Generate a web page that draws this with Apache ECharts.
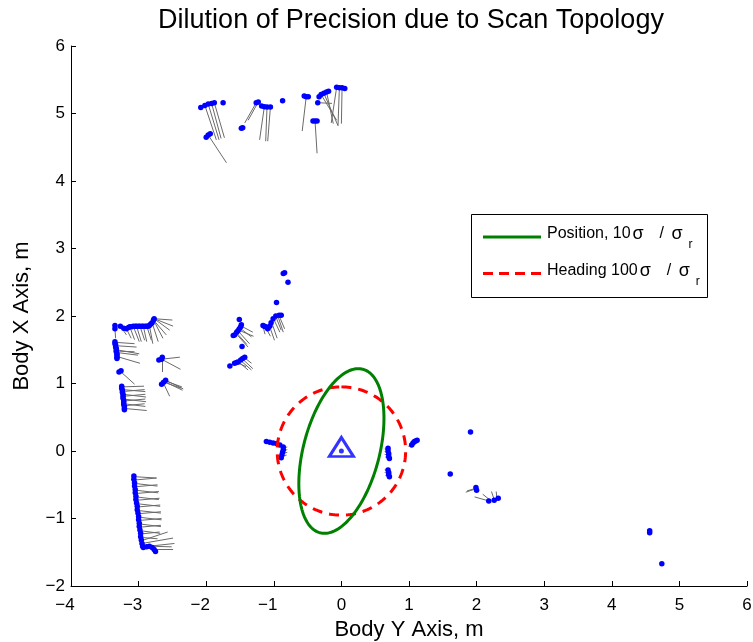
<!DOCTYPE html>
<html><head><meta charset="utf-8">
<script src="https://cdn.jsdelivr.net/npm/echarts@6/dist/echarts.min.js"></script>
<style>html,body{margin:0;padding:0;background:#fff}#c{width:753px;height:642px}</style>
</head><body><div id="c"></div>
<script>
// ---------- data (metres, body frame: [Y, X]) ----------
const xTicks = [-4,-3,-2,-1,0,1,2,3,4,5,6];
const yTicks = [-2,-1,0,1,2,3,4,5,6];

const topPts = [
[-2.08,5.09],[-2.02,5.12],[-1.97,5.14],[-1.92,5.15],[-1.88,5.16],[-1.75,5.16],
[-2.00,4.65],[-1.97,4.68],[-1.94,4.70],
[-1.26,5.16],[-1.23,5.17],[-1.18,5.11],[-1.14,5.10],[-1.10,5.095],[-1.05,5.095],
[-1.48,4.78],[-1.46,4.79],[-0.87,5.19],
[-0.55,5.26],[-0.52,5.25],[-0.49,5.25],
[-0.33,5.25],[-0.30,5.28],[-0.26,5.30],[-0.22,5.32],[-0.19,5.33],[-0.35,5.16],
[-0.07,5.39],[-0.03,5.38],[0.01,5.38],[0.05,5.37],
[-0.42,4.89],[-0.39,4.89],[-0.36,4.89]
];
const topSegs = [
[-2.02,5.12,-1.85,4.61],[-1.97,5.14,-1.81,4.61],[-1.92,5.15,-1.78,4.63],[-1.88,5.16,-1.73,4.64],
[-1.97,4.68,-1.70,4.27],
[-1.26,5.16,-1.43,4.86],[-1.23,5.17,-1.38,4.90],
[-1.14,5.10,-1.21,4.61],[-1.10,5.095,-1.12,4.59],[-1.05,5.095,-1.09,4.59],
[-0.52,5.25,-0.58,4.74],
[-0.30,5.28,-0.07,4.90],[-0.26,5.30,-0.05,4.82],[-0.22,5.32,-0.12,4.85],[-0.35,5.16,-0.14,5.15],
[-0.07,5.39,-0.15,4.86],[-0.03,5.38,-0.05,4.82],[0.01,5.38,0.00,4.85],
[-0.39,4.89,-0.36,4.41],[-0.45,4.875,-0.33,4.885]
];

const leftPts = [
[-3.35,1.86],[-3.35,1.81],[-3.27,1.85],[-3.22,1.82],[-3.18,1.81],[-3.15,1.83],[-3.13,1.84],[-3.10,1.84],
[-3.08,1.85],[-3.05,1.85],[-3.03,1.85],[-3.00,1.85],[-2.98,1.85],[-2.95,1.85],[-2.93,1.85],[-2.90,1.85],
[-2.88,1.85],[-2.86,1.85],[-2.84,1.86],[-2.82,1.88],[-2.80,1.90],[-2.78,1.94],[-2.77,1.96],
[-3.35,1.62],[-3.35,1.59],[-3.34,1.57],[-3.34,1.54],[-3.33,1.52],[-3.33,1.49],[-3.33,1.47],
[-3.32,1.44],[-3.32,1.42],[-3.32,1.39],[-3.32,1.37],
[-2.70,1.35],[-2.66,1.36],[-2.65,1.39],
[-3.29,1.17],[-3.26,1.19],
[-2.66,0.99],[-2.63,1.02],[-2.60,1.05],
[-3.25,0.96],[-3.25,0.93],[-3.24,0.90],[-3.24,0.87],[-3.23,0.84],[-3.23,0.81],[-3.23,0.78],
[-3.22,0.75],[-3.22,0.72],[-3.22,0.69],[-3.21,0.66],[-3.21,0.63],[-3.21,0.61]
];
const leftSegs = [
[-3.35,1.81,-3.34,1.67],[-3.27,1.85,-3.18,1.72],[-3.18,1.81,-3.11,1.67],[-3.13,1.84,-3.06,1.65],
[-3.08,1.85,-2.99,1.62],[-3.03,1.85,-2.96,1.62],[-2.98,1.85,-2.91,1.64],[-2.93,1.85,-2.88,1.62],
[-2.88,1.85,-2.81,1.64],[-2.84,1.86,-2.79,1.59],[-2.80,1.90,-2.71,1.62],[-2.78,1.94,-2.64,1.67],
[-2.78,1.94,-2.59,1.72],[-2.77,1.96,-2.54,1.79],[-2.77,1.96,-2.49,1.85],[-2.77,1.96,-2.50,1.94],
[-3.35,1.61,-3.06,1.59],[-3.34,1.56,-3.03,1.54],[-3.33,1.50,-2.99,1.44],[-3.33,1.46,-3.01,1.42],
[-3.32,1.48,-3.06,1.47],[-3.32,1.40,-2.98,1.30],
[-2.66,1.36,-2.39,1.39],[-2.66,1.36,-2.38,1.21],[-2.65,1.36,-2.65,1.17],
[-3.27,1.18,-3.06,0.99],
[-2.63,1.02,-2.37,0.93],[-2.62,1.03,-2.35,0.90],[-2.61,1.04,-2.36,0.95],[-2.60,1.05,-2.34,0.92],[-2.63,1.00,-2.54,0.81],
[-3.25,0.95,-2.92,0.96],[-3.24,0.91,-2.90,0.88],[-3.24,0.88,-2.91,0.91],[-3.23,0.84,-2.89,0.80],
[-3.23,0.81,-2.90,0.84],[-3.22,0.77,-2.89,0.73],[-3.22,0.74,-2.90,0.77],[-3.22,0.70,-2.90,0.66],
[-3.21,0.67,-2.91,0.70],[-3.21,0.63,-2.88,0.60]
];

const midPts = [
[-0.86,2.63],[-0.84,2.64],[-0.79,2.50],[-0.96,2.20],[-1.51,1.95],
[-1.48,1.87],[-1.49,1.84],[-1.51,1.81],[-1.53,1.78],[-1.55,1.76],[-1.58,1.72],[-1.60,1.71],[-1.47,1.55],
[-1.16,1.86],[-1.14,1.85],[-1.12,1.84],[-1.09,1.81],[-1.06,1.85],[-1.04,1.90],[-1.01,1.96],
[-0.97,2.00],[-0.92,2.01],[-0.89,2.01],
[-1.65,1.26],[-1.58,1.30],[-1.55,1.31],[-1.53,1.32],[-1.49,1.35],[-1.46,1.37],[-1.43,1.39]
];
const midSegs = [
[-1.48,1.85,-1.31,1.76],[-1.50,1.82,-1.33,1.69],[-1.53,1.78,-1.36,1.59],[-1.56,1.74,-1.38,1.54],
[-1.52,1.79,-1.30,1.70],[-1.55,1.75,-1.40,1.58],
[-1.16,1.85,-1.13,1.73],[-1.06,1.84,-0.99,1.64],[-1.03,1.90,-0.95,1.67],[-0.97,1.99,-0.89,1.79],
[-0.92,2.00,-0.84,1.81],[-1.00,1.95,-0.91,1.76],[-0.94,2.00,-0.86,1.76],[-1.12,1.83,-1.05,1.70],
[-1.46,1.36,-1.31,1.22],[-1.49,1.34,-1.33,1.20],[-1.52,1.32,-1.38,1.20],[-1.55,1.31,-1.41,1.25],
[-1.43,1.38,-1.33,1.30]
];

const lowPts = [
[-3.07,-0.37],[-3.07,-0.42],[-3.06,-0.47],[-3.06,-0.52],[-3.05,-0.57],[-3.05,-0.62],[-3.04,-0.67],
[-3.04,-0.72],[-3.03,-0.77],[-3.02,-0.82],[-3.02,-0.87],[-3.01,-0.92],[-3.00,-0.97],[-3.00,-1.02],
[-2.99,-1.07],[-2.99,-1.12],[-2.98,-1.17],[-2.97,-1.22],[-2.97,-1.27],[-2.96,-1.32],[-2.95,-1.37],
[-2.94,-1.41],[-2.93,-1.43],
[-2.88,-1.42],[-2.84,-1.41],[-2.80,-1.43],[-2.77,-1.46],[-2.75,-1.49]
];
const lowSegs = [
[-3.07,-0.38,-2.74,-0.40],[-3.06,-0.43,-2.73,-0.40],[-3.06,-0.48,-2.72,-0.52],[-3.05,-0.53,-2.72,-0.50],
[-3.05,-0.58,-2.71,-0.62],[-3.04,-0.63,-2.70,-0.60],[-3.04,-0.68,-2.70,-0.72],[-3.03,-0.73,-2.69,-0.70],
[-3.03,-0.78,-2.68,-0.82],[-3.02,-0.83,-2.68,-0.80],[-3.02,-0.88,-2.67,-0.92],[-3.01,-0.93,-2.67,-0.90],
[-3.00,-0.98,-2.66,-1.02],[-3.00,-1.03,-2.66,-1.00],[-2.99,-1.08,-2.67,-1.12],[-2.99,-1.13,-2.67,-1.10],
[-2.98,-1.18,-2.68,-1.22],[-2.97,-1.23,-2.69,-1.20],[-2.97,-1.28,-2.72,-1.30],[-2.96,-1.33,-2.57,-1.20],
[-2.95,-1.37,-2.49,-1.29],[-2.93,-1.42,-2.47,-1.37],[-2.84,-1.41,-2.51,-1.42],[-2.77,-1.46,-2.49,-1.46]
];

const nearPts = [
[-1.11,0.14],[-1.06,0.13],[-1.01,0.12],[-0.96,0.11],[-0.91,0.09],[-0.86,0.06],[-0.86,0.02],
[-0.87,-0.02],[-0.88,-0.06],[-0.89,-0.10],
[0.69,0.04],[0.69,0.00],[0.70,-0.04],[0.70,-0.08],[0.71,-0.11],
[0.69,-0.28],[0.70,-0.32],[0.70,-0.35],[0.71,-0.38],
[1.04,0.09],[1.06,0.12],[1.08,0.14],[1.10,0.15],[1.12,0.16],
[1.91,0.28],[1.61,-0.34],[1.99,-0.54],[2.00,-0.58],[2.18,-0.74],[2.26,-0.73],[2.32,-0.70],
[4.56,-1.18],[4.56,-1.21],[4.74,-1.67]
];
const nearSegs = [
[-0.86,0.04,-0.80,0.06],[-0.87,0.00,-0.80,0.02],[-0.88,-0.04,-0.80,-0.02],[-0.89,-0.08,-0.81,-0.06],
[0.69,0.02,0.64,0.03],[0.70,-0.02,0.64,-0.01],[0.70,-0.06,0.64,-0.05],[0.71,-0.10,0.65,-0.09],
[0.69,-0.29,0.64,-0.28],[0.70,-0.33,0.64,-0.32],[0.71,-0.37,0.65,-0.36],
[1.05,0.10,0.99,0.07],[1.07,0.13,1.00,0.10],[1.09,0.14,1.02,0.12],
[1.99,-0.56,1.84,-0.61],[2.00,-0.55,1.86,-0.59],[2.18,-0.74,1.97,-0.68],[2.19,-0.72,2.09,-0.64],
[2.26,-0.72,2.22,-0.60],[2.30,-0.70,2.29,-0.60]
];

const robot = [[0,0]];
// [centre Y, centre X, semi-major, semi-minor, tilt deg clockwise from +X]
const posEllipse = [0, 0, 1.252, 0.563, 14.6];
const headCircle = [0, 0, 0.95, 0.95, 0];

const legendPrefix = ['Position, 10', 'Heading 100'];

// ---------- chart ----------
const FONT = '"Liberation Sans", Arial, sans-serif';
const allPts = [].concat(topPts, leftPts, midPts, lowPts, nearPts);
const allSegs = [].concat(topSegs, leftSegs, midSegs, lowSegs, nearSegs);
const minus = v => String(v).replace('-', '\u2212');
const xLabel = v => !xTicks.includes(v) ? '' : (v < 0 ? '{n|' + minus(v) + '}' : String(v));

function ellipseRender(color, dash) {
  return function (params, api) {
    const cx = api.value(0), cy = api.value(1), a = api.value(2), b = api.value(3);
    const th = api.value(4) * Math.PI / 180;
    const pts = [];
    for (let k = 0; k <= 180; k++) {
      const t = k / 180 * 2 * Math.PI;
      const u = a * Math.cos(t), v = b * Math.sin(t);
      pts.push(api.coord([cx + u * Math.sin(th) + v * Math.cos(th), cy + u * Math.cos(th) - v * Math.sin(th)]));
    }
    return { type: 'polyline', shape: { points: pts },
      style: { stroke: color, lineWidth: 3, fill: null, lineDash: dash } };
  };
}

const ctx = document.createElement('canvas').getContext('2d');
ctx.font = '16px ' + FONT;
const LX = 547;
function legendText(prefix, yMid) {
  const sx = LX + ctx.measureText(prefix).width + 2;
  const t = (txt, x, y, size) => ({ type: 'text', z: 101, x: x, y: y,
    style: { text: txt, font: size + 'px ' + FONT, fill: '#000', verticalAlign: 'middle' } });
  return [
    t(prefix, LX, yMid, 16),
    t('\u03c3', sx, yMid, 18),
    t('/', sx + 27, yMid, 16),
    t('\u03c3', sx + 39, yMid, 18),
    t('r', sx + 56, yMid + 11, 12)
  ];
}

const chart = echarts.init(document.getElementById('c'), null, { renderer: 'canvas' });
chart.setOption({
  animation: false,
  backgroundColor: '#fff',
  title: { text: 'Dilution of Precision due to Scan Topology', left: 411, top: 7, textAlign: 'center', padding: 0,
    textStyle: { fontFamily: FONT, fontSize: 27, fontWeight: 'normal', color: '#000' } },
  grid: { left: 71, right: 6, top: 46, bottom: 56, containLabel: false, outerBoundsMode: 'none' },
  xAxis: { type: 'value', min: -4, max: 6, interval: 1,
    name: 'Body Y Axis, m', nameLocation: 'middle', nameGap: 31,
    nameTextStyle: { fontFamily: FONT, fontSize: 22, color: '#000' },
    axisLine: { onZero: false, lineStyle: { color: '#000', width: 1 } },
    axisTick: { inside: true, length: 5, lineStyle: { color: '#000' } },
    axisLabel: { fontFamily: FONT, fontSize: 17, color: '#000', margin: 11, formatter: xLabel,
      rich: { n: { fontFamily: FONT, fontSize: 17, color: '#000', padding: [0, 12, 0, 0] } } },
    splitLine: { show: false } },
  yAxis: { type: 'value', min: -2, max: 6, interval: 1,
    name: 'Body X Axis, m', nameLocation: 'middle', nameGap: 38,
    nameTextStyle: { fontFamily: FONT, fontSize: 22, color: '#000' },
    axisLine: { onZero: false, lineStyle: { color: '#000', width: 1 } },
    axisTick: { inside: true, length: 5, lineStyle: { color: '#000' } },
    axisLabel: { fontFamily: FONT, fontSize: 17, color: '#000', margin: 6,
      formatter: v => yTicks.includes(v) ? minus(v) : '' },
    splitLine: { show: false } },
  series: [
    { type: 'lines', coordinateSystem: 'cartesian2d', silent: true, z: 1,
      lineStyle: { color: '#6a6a6a', width: 1, opacity: 1, curveness: 0 },
      data: allSegs.map(s => ({ coords: [[s[0], s[1]], [s[2], s[3]]] })) },
    { type: 'scatter', z: 2, symbol: 'circle', symbolSize: 5.5, silent: true,
      itemStyle: { color: '#0000ff', opacity: 1 }, data: allPts },
    { type: 'custom', z: 3, silent: true, renderItem: ellipseRender('#ff0000', [10, 7]), data: [headCircle] },
    { type: 'custom', z: 4, silent: true, renderItem: ellipseRender('#008000', null), data: [posEllipse] },
    { type: 'scatter', z: 5, silent: true, symbol: 'triangle', symbolSize: [24, 19], symbolOffset: [0, -4],
      itemStyle: { color: 'rgba(0,0,0,0)', borderColor: '#0000ff', borderWidth: 3 }, data: robot },
    { type: 'scatter', z: 6, silent: true, symbol: 'circle', symbolSize: 5,
      itemStyle: { color: '#0000ff' }, data: robot }
  ],
  graphic: [
    { type: 'rect', z: 100, shape: { x: 471.5, y: 214.5, width: 236, height: 83 },
      style: { fill: '#fff', stroke: '#000', lineWidth: 1 } },
    { type: 'line', z: 101, shape: { x1: 483, y1: 237, x2: 541, y2: 237 },
      style: { stroke: '#008000', lineWidth: 3 } },
    { type: 'line', z: 101, shape: { x1: 483, y1: 273.5, x2: 541, y2: 273.5 },
      style: { stroke: '#ff0000', lineWidth: 3, lineDash: [10, 6] } }
  ].concat(legendText(legendPrefix[0], 234), legendText(legendPrefix[1], 271))
});
</script></body></html>
